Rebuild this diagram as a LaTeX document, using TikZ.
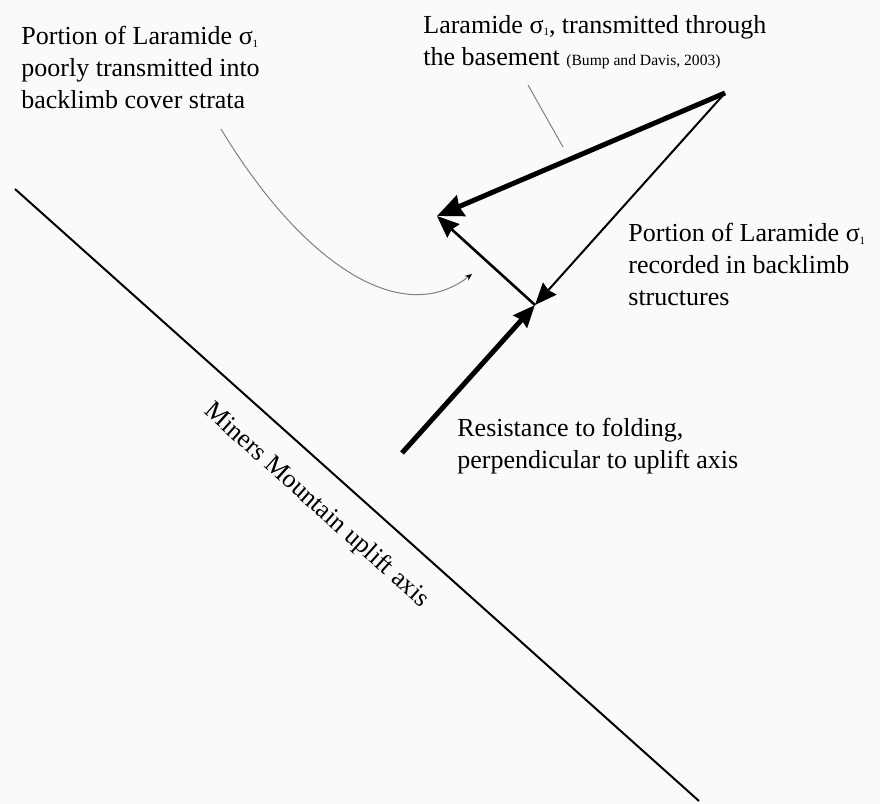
\documentclass[tikz,border=0pt]{standalone}
\usepackage{fontspec}
\setmainfont{Liberation Serif}
\usetikzlibrary{arrows.meta}
\newcommand{\sone}{σ\raisebox{-1.2pt}{\fontsize{5.5}{6}\selectfont 1}}

\begin{document}
\begin{tikzpicture}[x=0.5pt, y=-0.5pt,
  lbl/.style={anchor=north west, inner sep=0pt, align=left, font=\fontsize{13}{16}\selectfont},
  head/.style={-{Stealth[length=11pt, width=9pt, inset=1pt]}}]
\fill [white!98!black] (0,0) rectangle (880,804);
\path [use as bounding box] (0,0) rectangle (880,804);
\coordinate (axA) at (15,189);
\coordinate (axB) at (699,801);
\coordinate (apex) at (725,93);
\coordinate (tipL) at (437,216);
\coordinate (foot) at (535,305);
\coordinate (base) at (402,453);
\coordinate (cS) at (221,129);
\coordinate (cE) at (472,274);
\coordinate (ldA) at (528,85);
\coordinate (ldB) at (563,147);
% uplift axis
\draw [line width=1pt] (axA) -- node [pos=0.475, sloped, below=11pt, inner sep=0pt, font=\fontsize{13}{16}\selectfont] {Miners Mountain uplift axis} (axB);
% stress vectors
\draw [head, line width=2.5pt, -{Stealth[length=13pt, width=11pt, inset=1pt]}] (apex) -- (tipL);
\draw [head, line width=1pt] (apex) -- (foot);
\draw [head, line width=1.3pt] (foot) -- (tipL);
\draw [head, line width=2.5pt] (base) -- (foot);
% leaders
\draw [gray, line width=0.5pt] (ldA) -- (ldB);
\draw [gray, line width=0.5pt, -{Stealth[length=3.5pt, width=3pt, black]}] (cS) .. controls (300,260) and (400,330) .. (cE);
% labels
\node [lbl] (poor) at (21,26) {Portion of Laramide \sone\\poorly transmitted into\\backlimb cover strata};
\node [lbl] (basement) at (423,15) {Laramide \sone, transmitted through\\the basement {\fontsize{7.8}{9}\selectfont (Bump and Davis, 2003)}};
\node [lbl] (recorded) at (628,223) {Portion of Laramide \sone\\recorded in backlimb\\structures};
\node [lbl] (resist) at (457,418) {Resistance to folding,\\perpendicular to uplift axis};
\end{tikzpicture}
\end{document}
